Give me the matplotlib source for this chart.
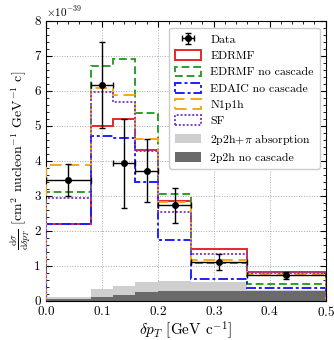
import numpy as np
import matplotlib
matplotlib.use("Agg")
import matplotlib.pyplot as plt
from matplotlib.patches import Patch
from matplotlib.ticker import MultipleLocator, AutoMinorLocator, FuncFormatter

plt.rcParams['font.family'] = ['cmr10', 'DejaVu Serif']
plt.rcParams['mathtext.fontset'] = 'cm'
plt.rcParams['axes.formatter.use_mathtext'] = True

edges = [0.0, 0.08, 0.12, 0.16, 0.20, 0.26, 0.36, 0.50]
scale = 1e-39

data_y = [3.45, 6.15, 3.93, 3.71, 2.73, 1.10, 0.72]
data_err = [0.45, 1.23, 1.27, 0.90, 0.50, 0.24, 0.10]

edrmf = [2.20, 4.99, 5.18, 4.31, 2.84, 1.47, 0.82]
edrmf_nocasc = [3.11, 6.72, 6.90, 5.35, 3.05, 1.08, 0.46]
edaic_nocasc = [2.20, 4.71, 4.64, 3.39, 1.73, 0.62, 0.35]
n1p1h = [3.88, 6.08, 5.88, 4.63, 2.82, 1.17, 0.77]
sf = [2.94, 5.97, 5.67, 4.28, 2.52, 1.32, 0.79]
twop2h_abs = [0.11, 0.32, 0.41, 0.52, 0.56, 0.52, 0.30]
twop2h_nocasc = [0.04, 0.10, 0.17, 0.24, 0.28, 0.27, 0.28]

edges_a = np.array(edges)
centers = 0.5 * (edges_a[:-1] + edges_a[1:])
half = 0.5 * np.diff(edges_a)

fig = plt.figure(figsize=(3.34, 3.40), dpi=100)
ax = fig.add_axes([0.137, 0.116, 0.838, 0.823])

s = lambda v: np.array(v) * scale

c_light, c_dark = '#cfcfcf', '#6a6a6a'
ax.stairs(s(twop2h_abs), edges, fill=True, color=c_light, zorder=1)
ax.stairs(s(twop2h_nocasc), edges, fill=True, color=c_dark, zorder=1.1)

lw = 1.4
styles = [
    ('EDRMF', edrmf, '#e8262a', '-'),
    ('EDRMF no cascade', edrmf_nocasc, '#2ca02c', (0, (4, 2))),
    ('EDAIC no cascade', edaic_nocasc, '#1f1fff', (0, (5, 1.5, 1.5, 1.5))),
    ('N1p1h', n1p1h, '#f5a81c', (0, (6, 3))),
    ('SF', sf, '#8040c0', (0, (1, 1))),
]
for lab, vals, col, ls in styles:
    ax.stairs(s(vals), edges, color=col, lw=lw, ls=ls, zorder=3)

h_data = ax.errorbar(centers, s(data_y), xerr=half, yerr=s(data_err), fmt='o', color='black',
                     ms=4, lw=1.0, capsize=2, zorder=5)

ax.set_xlim(0, 0.5)
ax.set_ylim(0, 8e-39)
ax.xaxis.set_major_locator(MultipleLocator(0.1))
ax.yaxis.set_major_locator(MultipleLocator(1e-39))
ax.xaxis.set_minor_locator(AutoMinorLocator(5))
ax.yaxis.set_minor_locator(AutoMinorLocator(5))
ax.yaxis.set_major_formatter(FuncFormatter(lambda v, p: f'{v / scale:.0f}'))
ax.text(0.0, 1.008, r'$\times10^{-39}$', transform=ax.transAxes, fontsize=8,
        ha='left', va='bottom')
ax.tick_params(which='both', direction='in', top=True, right=True, labelsize=9.5)
ax.tick_params(which='major', length=4)
ax.tick_params(which='minor', length=2)
ax.grid(True, which='major', ls=':', color='#aaaaaa', lw=0.7)
ax.set_axisbelow(True)

ax.set_xlabel(r'$\delta p_T$ [GeV c$^{-1}$]', fontsize=11, labelpad=0)
ax.set_ylabel(r'$\frac{\mathrm{d}\sigma}{\mathrm{d}\delta p_T}$ [cm$^2$ nucleon$^{-1}$ GeV$^{-1}$ c]',
              fontsize=10, labelpad=1)

handles = [h_data]
labels = ['Data']
for lab, vals, col, ls in styles:
    handles.append(Patch(facecolor='none', edgecolor=col, lw=lw, ls=ls))
    labels.append(lab)
handles += [Patch(facecolor=c_light, edgecolor='none'), Patch(facecolor=c_dark, edgecolor='none')]
labels += [r'2p2h+$\pi$ absorption', '2p2h no cascade']
ax.legend(handles, labels, loc='upper right', fontsize=8.5, framealpha=1,
          handlelength=2.2, handleheight=0.9, borderpad=0.5, labelspacing=0.45,
          bbox_to_anchor=(1.0, 0.995))

fig.savefig('out.png', dpi=100)
